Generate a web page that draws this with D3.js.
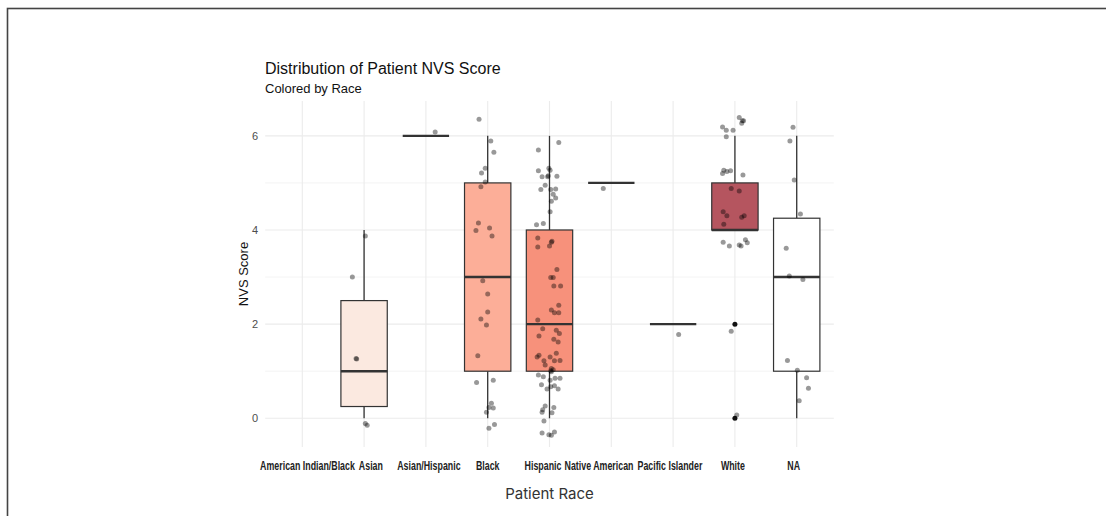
<!DOCTYPE html>
<html>
<head>
<meta charset="utf-8">
<script src="https://cdn.jsdelivr.net/npm/d3@7"></script>
<style>
  html, body { margin: 0; padding: 0; background: #ffffff; }
  svg { display: block; }
</style>
</head>
<body>
<svg id="chart" width="1106" height="516"></svg>
<script>
// ---------------- DATA ----------------
const categories = ["American Indian/Black", "Asian", "Asian/Hispanic", "Black", "Hispanic",
                    "Native American", "Pacific Islander", "White", "NA"];
const yTicks = [0, 2, 4, 6];
const yMinorTicks = [1, 3, 5];

// box statistics per category (null = no data)
const whiskerLow = [null, 0,    6, 0, 0, 5, 2, 4, 0];
const q1         = [null, 0.25, 6, 1, 1, 5, 2, 4, 1];
const medians    = [null, 1,    6, 3, 2, 5, 2, 4, 3];
const q3         = [null, 2.5,  6, 5, 4, 5, 2, 5, 4.25];
const whiskerHigh= [null, 4,    6, 6, 6, 5, 2, 6, 6];

// boxplot outliers
const outlierCategory = ["White", "White"];
const outlierValue    = [2, 0];

// jittered points: [jitter (fraction of category step), plotted score]
const pointsAsian = [[0.02,3.87],[-0.19,3.0],[-0.13,1.27],[-0.12,1.26],[0.02,-0.11],[0.05,-0.15]];
const pointsAsianHispanic = [[0.15,6.08]];
const pointsBlack = [[-0.14,6.35],[0.05,5.89],[0.10,5.65],[-0.04,5.31],[-0.10,5.21],[-0.04,5.02],
  [-0.11,4.92],[-0.15,4.15],[-0.19,3.99],[0.03,4.04],[0.07,3.87],[-0.08,2.92],[0.00,2.64],
  [0.00,2.26],[-0.11,2.11],[-0.02,1.98],[-0.16,1.33],[-0.18,0.76],[0.09,0.81],[0.06,0.32],
  [0.02,0.23],[0.09,0.22],[-0.02,0.13],[0.02,-0.21],[0.11,-0.13]];
const pointsHispanic = [[0.15,5.86],[-0.18,5.70],[-0.18,5.26],[-0.01,5.31],[0.01,5.27],[-0.12,5.13],
  [-0.03,5.13],[-0.02,5.15],[0.12,5.14],[-0.07,4.95],[-0.14,4.86],[0.02,4.86],[0.10,4.87],[0.06,4.76],
  [0.10,4.68],[0.03,4.61],[0.01,4.39],[-0.21,4.11],[-0.10,4.14],[-0.19,3.83],[-0.19,3.64],
  [0.03,3.74],[0.04,3.76],[0.00,3.66],[0.12,3.16],[0.02,2.99],[0.06,2.99],[0.07,2.81],[0.18,2.81],
  [0.15,2.40],[0.03,2.30],[0.08,2.24],[0.15,2.24],[-0.19,2.09],[-0.11,1.90],[0.11,1.87],
  [-0.17,1.75],[0.16,1.80],[0.07,1.68],[0.14,1.62],[0.11,1.38],[-0.17,1.34],[-0.20,1.30],
  [0.01,1.30],[-0.09,1.22],[0.08,1.22],[0.17,1.23],[-0.07,1.13],[0.03,1.06],[0.06,1.03],
  [0.02,1.01],[0.03,0.99],[-0.18,0.92],[-0.10,0.88],[0.01,0.81],[0.09,0.85],[0.17,0.85],
  [-0.13,0.71],[0.08,0.69],[0.02,0.67],[0.14,0.62],[-0.04,0.62],[-0.07,0.26],[-0.11,0.18],
  [0.07,0.23],[0.04,0.12],[-0.12,0.13],[-0.09,-0.06],[-0.12,-0.31],[-0.01,-0.35],[0.03,-0.36],
  [0.08,-0.29]];
const pointsNativeAmerican = [[-0.13,4.88]];
const pointsPacificIslander = [[0.09,1.78]];
const pointsWhite = [[0.07,6.39],[0.12,6.32],[0.14,6.32],[0.11,6.27],[-0.20,6.19],[-0.14,6.12],
  [-0.03,6.12],[-0.14,5.98],[-0.18,5.27],[-0.13,5.24],[-0.20,5.20],[-0.07,5.26],[0.13,5.17],
  [-0.06,4.88],[0.07,4.83],[-0.19,4.39],[-0.13,4.30],[0.11,4.27],[0.15,4.30],[-0.18,4.12],
  [-0.19,3.74],[-0.09,3.66],[0.07,3.68],[0.10,3.66],[0.17,3.79],[0.20,3.73],[-0.06,1.85],
  [0.03,0.07]];
const pointsNA = [[-0.06,6.18],[-0.11,5.89],[-0.04,5.06],[0.06,4.34],[-0.17,3.61],[-0.12,3.02],
  [0.10,2.95],[-0.15,1.23],[0.01,1.02],[0.16,0.86],[0.19,0.64],[0.04,0.37]];

const pointsByCategory = {
  "Asian": pointsAsian, "Asian/Hispanic": pointsAsianHispanic, "Black": pointsBlack,
  "Hispanic": pointsHispanic, "Native American": pointsNativeAmerican,
  "Pacific Islander": pointsPacificIslander, "White": pointsWhite, "NA": pointsNA
};

// ---------------- STYLE ----------------
const fillColors = ["#fff5f0", "#fbe9e0", "#fdd3c1", "#fcae98", "#f7917b", "#f26b55", "#d8473f", "#b5555f", "#ffffff"];
const labelNudge = [4.7, 6.3, 2.5, -0.5, -7, -12.8, -3.7, -2.5, -3.5];
const labelSqueeze = 0.68;

const panel = { left: 265.2, right: 833.8, top: 101, bottom: 447 };

const svg = d3.select("#chart");

// outer frame
svg.append("rect").attr("x", 7.5).attr("y", 8.5).attr("width", 1120).attr("height", 530)
  .attr("fill", "none").attr("stroke", "#444").attr("stroke-width", 1.6);

const x = d3.scalePoint().domain(categories).range([panel.left, panel.right]).padding(0.6);
const y = d3.scaleLinear().domain([-0.61, 6.74]).range([panel.bottom, panel.top]);
const step = x.step();
const halfW = step * 0.375;

const g = svg.append("g");

// grid
g.selectAll(".minor").data(yMinorTicks).join("line")
  .attr("x1", panel.left).attr("x2", panel.right)
  .attr("y1", d => y(d)).attr("y2", d => y(d))
  .attr("stroke", "#f0f0f0").attr("stroke-width", 0.8);
g.selectAll(".major").data(yTicks).join("line")
  .attr("x1", panel.left).attr("x2", panel.right)
  .attr("y1", d => y(d)).attr("y2", d => y(d))
  .attr("stroke", "#ebebeb").attr("stroke-width", 1.1);
g.selectAll(".vgrid").data(categories).join("line")
  .attr("x1", d => x(d)).attr("x2", d => x(d))
  .attr("y1", panel.top).attr("y2", panel.bottom)
  .attr("stroke", "#ebebeb").attr("stroke-width", 1.1);

// y axis labels
const yAxis = d3.axisLeft(y).tickValues(yTicks).tickSize(0).tickPadding(0).tickFormat(d3.format("d"));
const yg = svg.append("g").attr("transform", `translate(${panel.left - 7},0)`).call(yAxis);
yg.select(".domain").remove();
yg.selectAll("text").attr("font-family", "Liberation Sans, Arial, sans-serif")
  .attr("font-size", 11).attr("fill", "#4d4d4d");

// x axis labels (condensed bold)
const xAxis = d3.axisBottom(x).tickSize(0).tickPadding(0);
const xg = svg.append("g").attr("transform", `translate(0,${panel.bottom + 13.5})`).call(xAxis);
xg.select(".domain").remove();
xg.selectAll("text")
  .attr("font-family", "Liberation Sans, Arial, sans-serif")
  .attr("font-weight", "bold").attr("font-size", 13).attr("fill", "#222")
  .attr("transform", (d, i) => `translate(${labelNudge[i]},0) scale(${labelSqueeze},1)`);

// boxes
const boxData = categories.map((c, i) => ({
  cat: c, lo: whiskerLow[i], q1: q1[i], med: medians[i], q3: q3[i], hi: whiskerHigh[i], fill: fillColors[i]
})).filter(d => d.med !== null);

const boxes = g.selectAll(".box").data(boxData).join("g");
boxes.append("line")
  .attr("x1", d => x(d.cat)).attr("x2", d => x(d.cat))
  .attr("y1", d => y(d.q3)).attr("y2", d => y(d.hi))
  .attr("stroke", "#333").attr("stroke-width", 1.3);
boxes.append("line")
  .attr("x1", d => x(d.cat)).attr("x2", d => x(d.cat))
  .attr("y1", d => y(d.q1)).attr("y2", d => y(d.lo))
  .attr("stroke", "#333").attr("stroke-width", 1.3);
boxes.filter(d => d.q3 > d.q1).append("rect")
  .attr("x", d => x(d.cat) - halfW).attr("width", halfW * 2)
  .attr("y", d => y(d.q3)).attr("height", d => y(d.q1) - y(d.q3))
  .attr("fill", d => d.fill).attr("stroke", "#333").attr("stroke-width", 1.2);
boxes.append("line")
  .attr("x1", d => x(d.cat) - halfW).attr("x2", d => x(d.cat) + halfW)
  .attr("y1", d => y(d.med)).attr("y2", d => y(d.med))
  .attr("stroke", "#333").attr("stroke-width", 2.4);

// outliers
g.selectAll(".outlier").data(outlierValue.map((v, i) => ({ cat: outlierCategory[i], v })))
  .join("circle")
  .attr("cx", d => x(d.cat)).attr("cy", d => y(d.v)).attr("r", 2.5).attr("fill", "#111");

// jittered points
const pts = [];
Object.entries(pointsByCategory).forEach(([c, arr]) => arr.forEach(p => pts.push({ cat: c, j: p[0], v: p[1] })));
g.selectAll(".pt").data(pts).join("circle")
  .attr("cx", d => x(d.cat) + d.j * step).attr("cy", d => y(d.v))
  .attr("r", 2.5).attr("fill", "#000").attr("fill-opacity", 0.4);

// titles
svg.append("text").attr("x", 265).attr("y", 74)
  .attr("font-family", "Liberation Sans, Arial, sans-serif").attr("font-size", 16).attr("fill", "#111")
  .text("Distribution of Patient NVS Score");
svg.append("text").attr("x", 265).attr("y", 92.5)
  .attr("font-family", "Liberation Sans, Arial, sans-serif").attr("font-size", 13).attr("fill", "#111")
  .text("Colored by Race");
svg.append("text").attr("x", (panel.left + panel.right) / 2).attr("y", 499)
  .attr("text-anchor", "middle")
  .attr("font-family", "Inter, Open Sans, sans-serif").attr("font-size", 15).attr("fill", "#333")
  .text("Patient Race");
svg.append("text")
  .attr("transform", `translate(248,${(panel.top + panel.bottom) / 2}) rotate(-90)`)
  .attr("text-anchor", "middle")
  .attr("font-family", "Liberation Sans, Arial, sans-serif").attr("font-size", 13).attr("fill", "#111")
  .text("NVS Score");
</script>
</body>
</html>
